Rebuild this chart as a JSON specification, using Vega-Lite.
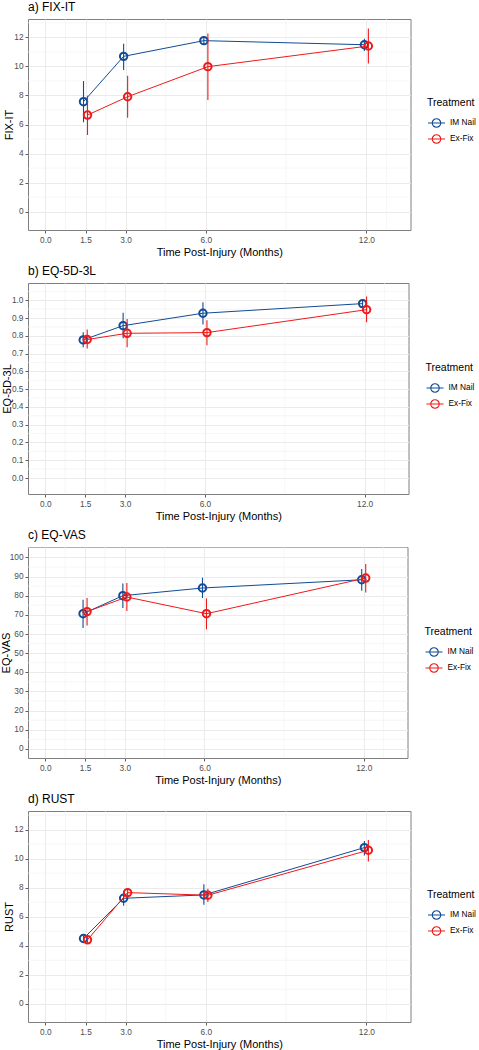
{
  "$schema": "https://vega.github.io/schema/vega-lite/v6.json",
  "background": "white",
  "padding": {"left": 0, "top": 0, "right": 0, "bottom": 0},
  "spacing": 6,
  "align": "none",
  "resolve": {"scale": {"color": "independent", "x": "independent", "y": "independent"}},
  "config": {
    "font": "Liberation Sans",
    "view": {"stroke": "#7F7F7F", "strokeWidth": 1},
    "axis": {"domain": false, "grid": true, "gridColor": "#EBEBEB", "gridWidth": 1, "tickColor": "#333333", "tickSize": 3, "tickWidth": 0.8, "labelFontSize": 8.3, "labelColor": "#4D4D4D", "labelPadding": 2, "labelOverlap": false, "titleFontSize": 11, "titleFontWeight": "normal", "titleColor": "#000000"},
    "axisX": {"titlePadding": 3},
    "axisY": {"titleBaseline": "alphabetic"},
    "title": {"fontSize": 12, "fontWeight": "normal", "anchor": "start", "frame": "group", "offset": 5, "color": "#000000"},
    "rule": {"strokeWidth": 1.1},
    "line": {"strokeWidth": 1},
    "point": {"filled": false, "size": 55, "strokeWidth": 2, "opacity": 1},
    "legend": {"titleFontSize": 10.5, "titleFontWeight": "normal", "titleColor": "#000000", "labelFontSize": 8.3, "labelColor": "#000000", "symbolSize": 289, "symbolStrokeWidth": 1.8, "labelOffset": 4, "titlePadding": 5, "rowPadding": 0, "symbolType": "M -0.5 0 A 0.5 0.5 0 1 1 0.5 0 A 0.5 0.5 0 1 1 -0.5 0 M -1 0 L 1 0"}
  },
  "datasets": {
    "fixit": [
      {"month": 1.5, "treatment": "IM Nail", "mean": 7.57, "lower": 6.15, "upper": 8.99},
      {"month": 3, "treatment": "IM Nail", "mean": 10.69, "lower": 9.75, "upper": 11.56},
      {"month": 6, "treatment": "IM Nail", "mean": 11.77, "lower": 11.54, "upper": 11.98},
      {"month": 12, "treatment": "IM Nail", "mean": 11.49, "lower": 11.06, "upper": 11.9},
      {"month": 1.5, "treatment": "Ex-Fix", "mean": 6.65, "lower": 5.28, "upper": 7.98},
      {"month": 3, "treatment": "Ex-Fix", "mean": 7.91, "lower": 6.47, "upper": 9.36},
      {"month": 6, "treatment": "Ex-Fix", "mean": 9.98, "lower": 7.69, "upper": 12.27},
      {"month": 12, "treatment": "Ex-Fix", "mean": 11.4, "lower": 10.19, "upper": 12.6}
    ],
    "eq5d": [
      {"month": 1.5, "treatment": "IM Nail", "mean": 0.777, "lower": 0.735, "upper": 0.82},
      {"month": 3, "treatment": "IM Nail", "mean": 0.857, "lower": 0.786, "upper": 0.929},
      {"month": 6, "treatment": "IM Nail", "mean": 0.927, "lower": 0.863, "upper": 0.989},
      {"month": 12, "treatment": "IM Nail", "mean": 0.981, "lower": 0.96, "upper": 1.004},
      {"month": 1.5, "treatment": "Ex-Fix", "mean": 0.779, "lower": 0.728, "upper": 0.835},
      {"month": 3, "treatment": "Ex-Fix", "mean": 0.814, "lower": 0.735, "upper": 0.895},
      {"month": 6, "treatment": "Ex-Fix", "mean": 0.818, "lower": 0.747, "upper": 0.887},
      {"month": 12, "treatment": "Ex-Fix", "mean": 0.947, "lower": 0.876, "upper": 1.021}
    ],
    "eqvas": [
      {"month": 1.5, "treatment": "IM Nail", "mean": 70.6, "lower": 63.1, "upper": 77.9},
      {"month": 3, "treatment": "IM Nail", "mean": 80.0, "lower": 73.6, "upper": 86.3},
      {"month": 6, "treatment": "IM Nail", "mean": 84.0, "lower": 78.8, "upper": 89.4},
      {"month": 12, "treatment": "IM Nail", "mean": 88.3, "lower": 82.6, "upper": 93.9},
      {"month": 1.5, "treatment": "Ex-Fix", "mean": 71.7, "lower": 64.5, "upper": 78.8},
      {"month": 3, "treatment": "Ex-Fix", "mean": 79.3, "lower": 72.0, "upper": 86.6},
      {"month": 6, "treatment": "Ex-Fix", "mean": 70.6, "lower": 62.4, "upper": 78.6},
      {"month": 12, "treatment": "Ex-Fix", "mean": 89.2, "lower": 81.6, "upper": 96.5}
    ],
    "rust": [
      {"month": 1.5, "treatment": "IM Nail", "mean": 4.5, "lower": 4.32, "upper": 4.68},
      {"month": 3, "treatment": "IM Nail", "mean": 7.27, "lower": 6.75, "upper": 7.73},
      {"month": 6, "treatment": "IM Nail", "mean": 7.5, "lower": 6.82, "upper": 8.24},
      {"month": 12, "treatment": "IM Nail", "mean": 10.76, "lower": 10.21, "upper": 11.22},
      {"month": 1.5, "treatment": "Ex-Fix", "mean": 4.41, "lower": 4.18, "upper": 4.63},
      {"month": 3, "treatment": "Ex-Fix", "mean": 7.66, "lower": 7.37, "upper": 7.96},
      {"month": 6, "treatment": "Ex-Fix", "mean": 7.48, "lower": 7.02, "upper": 7.92},
      {"month": 12, "treatment": "Ex-Fix", "mean": 10.58, "lower": 9.8, "upper": 11.29}
    ],
    "xminor": [{"v": 0.75}, {"v": 2.25}, {"v": 4.5}, {"v": 9}, {"v": 12.75}],
    "yminor12": [{"v": 1}, {"v": 3}, {"v": 5}, {"v": 7}, {"v": 9}, {"v": 11}, {"v": 13}],
    "yminor1": [{"v": 0.05}, {"v": 0.15}, {"v": 0.25}, {"v": 0.35}, {"v": 0.45}, {"v": 0.55}, {"v": 0.65}, {"v": 0.75}, {"v": 0.85}, {"v": 0.95}, {"v": 1.05}],
    "yminor100": [{"v": 5}, {"v": 15}, {"v": 25}, {"v": 35}, {"v": 45}, {"v": 55}, {"v": 65}, {"v": 75}, {"v": 85}, {"v": 95}, {"v": 105}]
  },
  "vconcat": [
    {
      "width": 382.5, "height": 211,
      "title": {"text": "a) FIX-IT"},
      "layer": [
        {"data": {"name": "xminor"}, "mark": {"type": "rule", "color": "#F0F0F0", "strokeWidth": 0.6},
         "encoding": {"x": {"field": "v", "type": "quantitative", "title": "Time Post-Injury (Months)", "axis": {"values": [0, 1.5, 3, 6, 12], "format": ".1f", "tickCount": 20, "labelOverlap": false}, "scale": {"domain": [-0.65, 13.65], "nice": false, "zero": false}}}},
        {"data": {"name": "yminor12"}, "mark": {"type": "rule", "color": "#F0F0F0", "strokeWidth": 0.6},
         "encoding": {"y": {"field": "v", "type": "quantitative", "title": "FIX-IT", "axis": {"values": [0, 2, 4, 6, 8, 10, 12], "format": "d", "tickCount": 20, "titleX": -16, "labelOverlap": false}, "scale": {"domain": [-1.26, 13.26], "nice": false, "zero": false}}}},
        {"data": {"name": "fixit"}, "transform": [{"filter": {"field": "treatment", "equal": "IM Nail"}}],
         "encoding": {
           "x": {"field": "month", "type": "quantitative", "title": "Time Post-Injury (Months)"},
           "color": {"field": "treatment", "type": "nominal", "title": "Treatment", "scale": {"domain": ["IM Nail", "Ex-Fix"], "range": ["#114B95", "#EE1A1A"]}, "legend": {"orient": "none", "legendX": 399, "legendY": 79}}
         },
         "layer": [
           {"mark": {"type": "rule", "xOffset": -2}, "encoding": {"y": {"field": "lower", "type": "quantitative", "title": "FIX-IT"}, "y2": {"field": "upper"}}},
           {"mark": {"type": "line", "xOffset": -2}, "encoding": {"y": {"field": "mean", "type": "quantitative", "title": "FIX-IT"}}},
           {"mark": {"type": "point", "xOffset": -2}, "encoding": {"y": {"field": "mean", "type": "quantitative", "title": "FIX-IT"}}}
         ]},
        {"data": {"name": "fixit"}, "transform": [{"filter": {"field": "treatment", "equal": "Ex-Fix"}}],
         "encoding": {
           "x": {"field": "month", "type": "quantitative", "title": "Time Post-Injury (Months)"},
           "color": {"field": "treatment", "type": "nominal", "title": "Treatment", "legend": {"orient": "none", "legendX": 399, "legendY": 79}}
         },
         "layer": [
           {"mark": {"type": "rule", "xOffset": 2}, "encoding": {"y": {"field": "lower", "type": "quantitative", "title": "FIX-IT"}, "y2": {"field": "upper"}}},
           {"mark": {"type": "line", "xOffset": 2}, "encoding": {"y": {"field": "mean", "type": "quantitative", "title": "FIX-IT"}}},
           {"mark": {"type": "point", "xOffset": 2}, "encoding": {"y": {"field": "mean", "type": "quantitative", "title": "FIX-IT"}}}
         ]}
      ]
    },
    {
      "width": 380.5, "height": 211,
      "title": {"text": "b) EQ-5D-3L"},
      "layer": [
        {"data": {"name": "xminor"}, "mark": {"type": "rule", "color": "#F0F0F0", "strokeWidth": 0.6},
         "encoding": {"x": {"field": "v", "type": "quantitative", "title": "Time Post-Injury (Months)", "axis": {"values": [0, 1.5, 3, 6, 12], "format": ".1f", "tickCount": 20, "labelOverlap": false}, "scale": {"domain": [-0.65, 13.65], "nice": false, "zero": false}}}},
        {"data": {"name": "yminor1"}, "mark": {"type": "rule", "color": "#F0F0F0", "strokeWidth": 0.6},
         "encoding": {"y": {"field": "v", "type": "quantitative", "title": "EQ-5D-3L", "axis": {"values": [0, 0.1, 0.2, 0.3, 0.4, 0.5, 0.6, 0.7, 0.8, 0.9, 1.0], "format": ".1f", "tickCount": 30, "titleX": -17.5, "labelOverlap": false}, "scale": {"domain": [-0.09, 1.097], "nice": false, "zero": false}}}},
        {"data": {"name": "eq5d"}, "transform": [{"filter": {"field": "treatment", "equal": "IM Nail"}}],
         "encoding": {
           "x": {"field": "month", "type": "quantitative", "title": "Time Post-Injury (Months)"},
           "color": {"field": "treatment", "type": "nominal", "title": "Treatment", "scale": {"domain": ["IM Nail", "Ex-Fix"], "range": ["#114B95", "#EE1A1A"]}, "legend": {"orient": "none", "legendX": 397.5, "legendY": 80}}
         },
         "layer": [
           {"mark": {"type": "rule", "xOffset": -2}, "encoding": {"y": {"field": "lower", "type": "quantitative", "title": "EQ-5D-3L"}, "y2": {"field": "upper"}}},
           {"mark": {"type": "line", "xOffset": -2}, "encoding": {"y": {"field": "mean", "type": "quantitative", "title": "EQ-5D-3L"}}},
           {"mark": {"type": "point", "xOffset": -2}, "encoding": {"y": {"field": "mean", "type": "quantitative", "title": "EQ-5D-3L"}}}
         ]},
        {"data": {"name": "eq5d"}, "transform": [{"filter": {"field": "treatment", "equal": "Ex-Fix"}}],
         "encoding": {
           "x": {"field": "month", "type": "quantitative", "title": "Time Post-Injury (Months)"},
           "color": {"field": "treatment", "type": "nominal", "title": "Treatment", "legend": {"orient": "none", "legendX": 397.5, "legendY": 80}}
         },
         "layer": [
           {"mark": {"type": "rule", "xOffset": 2}, "encoding": {"y": {"field": "lower", "type": "quantitative", "title": "EQ-5D-3L"}, "y2": {"field": "upper"}}},
           {"mark": {"type": "line", "xOffset": 2}, "encoding": {"y": {"field": "mean", "type": "quantitative", "title": "EQ-5D-3L"}}},
           {"mark": {"type": "point", "xOffset": 2}, "encoding": {"y": {"field": "mean", "type": "quantitative", "title": "EQ-5D-3L"}}}
         ]}
      ]
    },
    {
      "width": 379.5, "height": 211,
      "title": {"text": "c) EQ-VAS"},
      "layer": [
        {"data": {"name": "xminor"}, "mark": {"type": "rule", "color": "#F0F0F0", "strokeWidth": 0.6},
         "encoding": {"x": {"field": "v", "type": "quantitative", "title": "Time Post-Injury (Months)", "axis": {"values": [0, 1.5, 3, 6, 12], "format": ".1f", "tickCount": 20, "labelOverlap": false}, "scale": {"domain": [-0.65, 13.65], "nice": false, "zero": false}}}},
        {"data": {"name": "yminor100"}, "mark": {"type": "rule", "color": "#F0F0F0", "strokeWidth": 0.6},
         "encoding": {"y": {"field": "v", "type": "quantitative", "title": "EQ-VAS", "axis": {"values": [0, 10, 20, 30, 40, 50, 60, 70, 80, 90, 100], "format": "d", "tickCount": 30, "titleX": -18.5, "labelOverlap": false}, "scale": {"domain": [-4.7, 105.4], "nice": false, "zero": false}}}},
        {"data": {"name": "eqvas"}, "transform": [{"filter": {"field": "treatment", "equal": "IM Nail"}}],
         "encoding": {
           "x": {"field": "month", "type": "quantitative", "title": "Time Post-Injury (Months)"},
           "color": {"field": "treatment", "type": "nominal", "title": "Treatment", "scale": {"domain": ["IM Nail", "Ex-Fix"], "range": ["#114B95", "#EE1A1A"]}, "legend": {"orient": "none", "legendX": 396.5, "legendY": 80}}
         },
         "layer": [
           {"mark": {"type": "rule", "xOffset": -2}, "encoding": {"y": {"field": "lower", "type": "quantitative", "title": "EQ-VAS"}, "y2": {"field": "upper"}}},
           {"mark": {"type": "line", "xOffset": -2}, "encoding": {"y": {"field": "mean", "type": "quantitative", "title": "EQ-VAS"}}},
           {"mark": {"type": "point", "xOffset": -2}, "encoding": {"y": {"field": "mean", "type": "quantitative", "title": "EQ-VAS"}}}
         ]},
        {"data": {"name": "eqvas"}, "transform": [{"filter": {"field": "treatment", "equal": "Ex-Fix"}}],
         "encoding": {
           "x": {"field": "month", "type": "quantitative", "title": "Time Post-Injury (Months)"},
           "color": {"field": "treatment", "type": "nominal", "title": "Treatment", "legend": {"orient": "none", "legendX": 396.5, "legendY": 80}}
         },
         "layer": [
           {"mark": {"type": "rule", "xOffset": 2}, "encoding": {"y": {"field": "lower", "type": "quantitative", "title": "EQ-VAS"}, "y2": {"field": "upper"}}},
           {"mark": {"type": "line", "xOffset": 2}, "encoding": {"y": {"field": "mean", "type": "quantitative", "title": "EQ-VAS"}}},
           {"mark": {"type": "point", "xOffset": 2}, "encoding": {"y": {"field": "mean", "type": "quantitative", "title": "EQ-VAS"}}}
         ]}
      ]
    },
    {
      "width": 382.5, "height": 211,
      "title": {"text": "d) RUST"},
      "layer": [
        {"data": {"name": "xminor"}, "mark": {"type": "rule", "color": "#F0F0F0", "strokeWidth": 0.6},
         "encoding": {"x": {"field": "v", "type": "quantitative", "title": "Time Post-Injury (Months)", "axis": {"values": [0, 1.5, 3, 6, 12], "format": ".1f", "tickCount": 20, "labelOverlap": false}, "scale": {"domain": [-0.65, 13.65], "nice": false, "zero": false}}}},
        {"data": {"name": "yminor12"}, "mark": {"type": "rule", "color": "#F0F0F0", "strokeWidth": 0.6},
         "encoding": {"y": {"field": "v", "type": "quantitative", "title": "RUST", "axis": {"values": [0, 2, 4, 6, 8, 10, 12], "format": "d", "tickCount": 20, "titleX": -16, "labelOverlap": false}, "scale": {"domain": [-1.25, 13.28], "nice": false, "zero": false}}}},
        {"data": {"name": "rust"}, "transform": [{"filter": {"field": "treatment", "equal": "IM Nail"}}],
         "encoding": {
           "x": {"field": "month", "type": "quantitative", "title": "Time Post-Injury (Months)"},
           "color": {"field": "treatment", "type": "nominal", "title": "Treatment", "scale": {"domain": ["IM Nail", "Ex-Fix"], "range": ["#114B95", "#EE1A1A"]}, "legend": {"orient": "none", "legendX": 399, "legendY": 79}}
         },
         "layer": [
           {"mark": {"type": "rule", "xOffset": -2}, "encoding": {"y": {"field": "lower", "type": "quantitative", "title": "RUST"}, "y2": {"field": "upper"}}},
           {"mark": {"type": "line", "xOffset": -2}, "encoding": {"y": {"field": "mean", "type": "quantitative", "title": "RUST"}}},
           {"mark": {"type": "point", "xOffset": -2}, "encoding": {"y": {"field": "mean", "type": "quantitative", "title": "RUST"}}}
         ]},
        {"data": {"name": "rust"}, "transform": [{"filter": {"field": "treatment", "equal": "Ex-Fix"}}],
         "encoding": {
           "x": {"field": "month", "type": "quantitative", "title": "Time Post-Injury (Months)"},
           "color": {"field": "treatment", "type": "nominal", "title": "Treatment", "legend": {"orient": "none", "legendX": 399, "legendY": 79}}
         },
         "layer": [
           {"mark": {"type": "rule", "xOffset": 2}, "encoding": {"y": {"field": "lower", "type": "quantitative", "title": "RUST"}, "y2": {"field": "upper"}}},
           {"mark": {"type": "line", "xOffset": 2}, "encoding": {"y": {"field": "mean", "type": "quantitative", "title": "RUST"}}},
           {"mark": {"type": "point", "xOffset": 2}, "encoding": {"y": {"field": "mean", "type": "quantitative", "title": "RUST"}}}
         ]}
      ]
    }
  ]
}
